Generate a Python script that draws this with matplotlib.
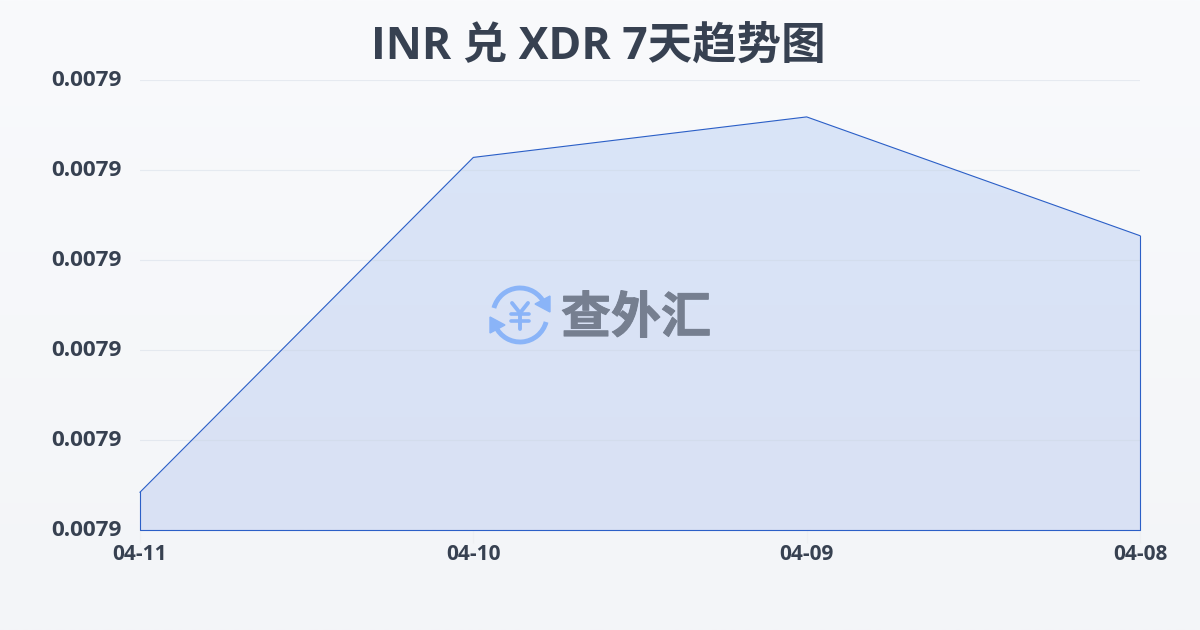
import numpy as np
import matplotlib.pyplot as plt
import matplotlib.patheffects as pe
from matplotlib.patches import Arc, Polygon
from matplotlib.transforms import ScaledTranslation

plt.rcParams['font.family'] = ['Open Sans', 'Noto Sans CJK SC', 'DejaVu Sans']

# data
dates = ['04-11', '04-10', '04-09', '04-08']
rates = [0.0078842, 0.0079214, 0.0079259, 0.0079127]
yticks = [0.00788, 0.00789, 0.00790, 0.00791, 0.00792, 0.00793]

dark = '#374151'
line_col = '#2b5fc7'
icon_col = '#8ab4f8'

fig = plt.figure(figsize=(12, 6.3), dpi=100)

# page background
bg = fig.add_axes([0, 0, 1, 1], zorder=0)
bg.imshow(np.linspace(0, 1, 256).reshape(-1, 1), aspect='auto', extent=[0, 1, 0, 1],
          cmap=plt.cm.colors.LinearSegmentedColormap.from_list('bg', ['#f9fafc', '#f3f5f8']))
bg.axis('off')

ax = fig.add_axes([140/1200, 1 - 530/630, 1000/1200, 450/630], zorder=1)
ax.patch.set_alpha(0)
x = np.arange(len(dates))
ax.set_xlim(0, len(dates) - 1)
ax.set_ylim(yticks[0], yticks[-1])

# gradient fill under the line
fill = ax.imshow(np.linspace(0, 1, 256).reshape(-1, 1), aspect='auto',
                 extent=[0, len(dates) - 1, yticks[0], yticks[-1]], zorder=1,
                 cmap=plt.cm.colors.LinearSegmentedColormap.from_list('f', ['#dae5f8', '#d9e1f4']))
clip = Polygon(list(zip(x, rates)) + [(x[-1], yticks[0]), (x[0], yticks[0])],
               closed=True, transform=ax.transData, fc='none', ec='none')
ax.add_patch(clip)
fill.set_clip_path(clip)

ax.set_yticks(yticks)
ax.set_yticklabels(['%.4f' % v for v in yticks], fontsize=16.2, fontweight='bold', color=dark)
ax.set_xticks(x)
ax.set_xticklabels(dates, fontsize=15, fontweight='bold', color=dark)
ax.tick_params(axis='y', length=0, pad=13)
ax.tick_params(axis='x', length=9, color='#eef0f3', width=1, pad=1)
# y labels sit a little above their grid lines
shift = ScaledTranslation(0, 2/100, fig.dpi_scale_trans)
for lab in ax.get_yticklabels():
    lab.set_transform(lab.get_transform() + shift)
ax.grid(axis='y', color='#cbd5e1', alpha=0.4, lw=0.8, zorder=2)
ax.set_axisbelow(False)
for s in ax.spines.values():
    s.set_visible(False)

# outline goes all the way round the filled area
ax.plot(x, rates, color=line_col, lw=0.8, zorder=3, clip_on=False)
ax.plot([x[0], x[0], x[-1], x[-1]], [rates[0], yticks[0], yticks[0], rates[-1]],
        color=line_col, lw=0.8, zorder=3, clip_on=False)

fig.text(0.499, 1 - 47/630, 'INR 兑 XDR 7天趋势图', ha='center', va='center',
         fontsize=32, fontweight='bold', color=dark)

# watermark, pixel coordinates
wm = fig.add_axes([0, 0, 1, 1], zorder=2)
wm.set_xlim(0, 1200)
wm.set_ylim(630, 0)
wm.axis('off')
wm.add_patch(Arc((520, 315), 54, 54, theta1=195, theta2=335, color=icon_col, lw=3.5))
wm.add_patch(Arc((520, 315), 54, 54, theta1=15, theta2=155, color=icon_col, lw=3.5))
wm.add_patch(Polygon([(550, 296), (550, 312), (535, 304)], closed=True, fc=icon_col, ec=icon_col))
wm.add_patch(Polygon([(490, 317), (490, 333), (505, 325)], closed=True, fc=icon_col, ec=icon_col))
# yen sign as strokes, the fonts draw it too heavy or too small
wm.plot([512, 520, 528], [303, 313, 303], color=icon_col, lw=2.8, solid_capstyle='round')
wm.plot([520, 520], [313, 329], color=icon_col, lw=2.8, solid_capstyle='round')
wm.plot([511, 529], [314, 314], color=icon_col, lw=2.6, solid_capstyle='round')
wm.plot([511, 529], [321, 321], color=icon_col, lw=2.6, solid_capstyle='round')
wm.text(636, 320, '查外汇', ha='center', va='center', fontsize=36, fontweight='bold', color='#767f90',
        path_effects=[pe.withStroke(linewidth=0.7, foreground='#767f90')])
wm.set_xlim(0, 1200)
wm.set_ylim(630, 0)

fig.savefig('out.png', dpi=100)
